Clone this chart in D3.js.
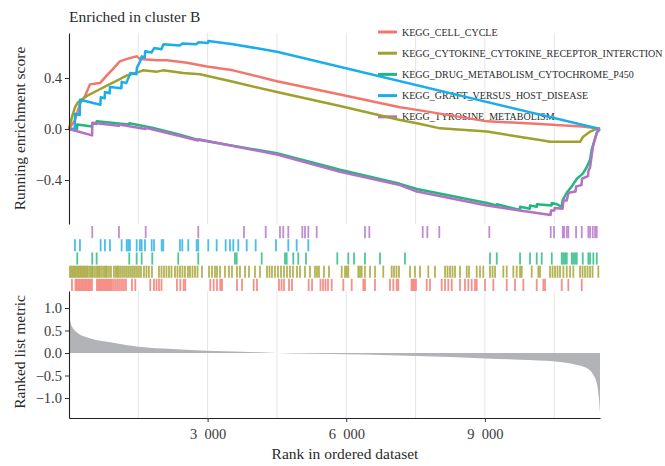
<!DOCTYPE html>
<html>
<head>
<meta charset="utf-8">
<script src="https://cdn.jsdelivr.net/npm/d3@7"></script>
<style>
  body { margin: 0; background: #fff; }
  text { font-family: "Liberation Serif", "DejaVu Serif", serif; }
</style>
</head>
<body>
<div id="chart"></div>
<script>
//
// GSEA plot: running enrichment score, hit rug and ranked list metric
//

// Gene sets (legend order) and colours
const setNames = [
    'KEGG_CELL_CYCLE',
    'KEGG_CYTOKINE_CYTOKINE_RECEPTOR_INTERCTION',
    'KEGG_DRUG_METABOLISM_CYTOCHROME_P450',
    'KEGG_GRAFT_VERSUS_HOST_DISEASE',
    'KEGG_TYROSINE_METABOLISM'
];
const setColors = ['#f3766d', '#a0a02c', '#22b87d', '#19aeea', '#b371c6'];

// Running enrichment score, [rank, score]
const esCellCycle = [[0, 0], [130, 0.07], [240, 0.2], [350, 0.26], [455, 0.35], [670, 0.36], [820, 0.42],
    [950, 0.47], [1100, 0.53], [1255, 0.55], [1470, 0.57], [1535, 0.55], [1905, 0.54], [2120, 0.54],
    [2555, 0.52], [2985, 0.49], [3550, 0.46], [4500, 0.375], [5865, 0.27], [7160, 0.17], [7530, 0.15],
    [9045, 0.06], [10190, 0.04], [11100, 0.02], [11430, 0.005], [11490, 0]];
const esCytokine = [[0, 0], [70, 0.1], [130, 0.17], [195, 0.21], [390, 0.26], [605, 0.3], [820, 0.34],
    [1040, 0.38], [1255, 0.42], [1535, 0.45], [1600, 0.46], [1905, 0.45], [2035, 0.46], [2470, 0.44],
    [2835, 0.43], [3550, 0.37], [4500, 0.29], [5865, 0.18], [7160, 0.07], [7530, 0.045], [8030, 0.005],
    [9045, -0.02], [10190, -0.086], [10410, -0.1], [11060, -0.1], [11125, -0.06], [11280, -0.02],
    [11430, 0.005], [11490, 0]];
const esDrug = [[0, 0], [175, 0.0], [180, 0.035], [500, 0.02], [504, 0.045], [595, 0.04], [600, 0.06],
    [1300, 0.035], [1305, 0.045], [1800, 0.01], [2360, -0.04], [2800, -0.085], [4500, -0.19],
    [5865, -0.32], [7160, -0.43], [7530, -0.47], [9045, -0.58], [9250, -0.6], [9256, -0.59],
    [9755, -0.635], [9760, -0.61], [9970, -0.625], [9976, -0.6], [10120, -0.61], [10125, -0.59],
    [10440, -0.6], [10446, -0.58], [10560, -0.59], [10662, -0.61], [10680, -0.56], [10770, -0.5],
    [10880, -0.45], [10990, -0.39], [11117, -0.35], [11203, -0.3], [11275, -0.24], [11311, -0.16],
    [11346, -0.12], [11420, -0.03], [11490, 0]];
const esGvhd = [[0, 0], [128, 0], [132, 0.12], [234, 0.11], [240, 0.23], [680, 0.19], [688, 0.25],
    [772, 0.24], [780, 0.29], [880, 0.28], [888, 0.33], [1135, 0.32], [1142, 0.37], [1240, 0.36],
    [1330, 0.44], [1460, 0.43], [1470, 0.48], [1540, 0.53], [1575, 0.57], [1640, 0.56], [1650, 0.61],
    [1785, 0.6], [1845, 0.635], [2000, 0.625], [2045, 0.665], [2400, 0.655], [2455, 0.67], [2760, 0.665],
    [2800, 0.68], [3010, 0.675], [3016, 0.69], [3550, 0.665], [4070, 0.633], [4500, 0.606], [11490, 0]];
const esTyrosine = [[0, 0], [500, -0.05], [506, 0.05], [1078, 0.025], [1085, 0.035], [1655, 0.0],
    [1662, 0.01], [2795, -0.09], [2800, -0.08], [4500, -0.2], [5865, -0.335], [7160, -0.44],
    [7530, -0.49], [9045, -0.6], [10420, -0.675], [10430, -0.64], [10500, -0.64], [10510, -0.62],
    [10680, -0.625], [10700, -0.56], [10770, -0.56], [10810, -0.5], [10960, -0.49], [10975, -0.45],
    [11090, -0.44], [11100, -0.39], [11230, -0.37], [11240, -0.33], [11275, -0.3], [11340, -0.13],
    [11420, -0.03], [11450, 0], [11490, 0]];

// Hit positions (rank) of each gene set
const hitsCellCycle = [65, 141, 173, 206, 238, 271, 303, 335, 368, 400, 433, 465, 498, 606, 638, 671, 703,
    736, 768, 801, 833, 866, 898, 931, 974, 1017, 1060, 1104, 1147, 1190, 1233, 1363, 1435, 1759, 1839,
    1894, 1948, 2002, 2337, 2409, 2482, 2517, 3058, 3131, 3203, 3274, 3311, 3636, 3744, 3997, 4068, 4544,
    4599, 4653, 4761, 4826, 5187, 5259, 5442, 5497, 5551, 5605, 5685, 5936, 6118, 6369, 6405, 6622, 6946,
    7018, 7091, 7126, 7412, 7444, 7477, 7509, 7741, 7812, 8065, 8137, 8208, 8282, 8461, 8569, 8641, 8714,
    8786, 8823, 9002, 9182, 9472, 9651, 9831, 10121, 10264, 10301, 10662, 10805, 11095];
const hitsCytokine = [22, 54, 87, 119, 151, 184, 216, 249, 281, 314, 346, 379, 411, 454, 487, 519, 563,
    606, 638, 671, 714, 757, 790, 822, 866, 909, 974, 1017, 1050, 1082, 1125, 1169, 1212, 1255, 1298, 1342,
    1385, 1428, 1472, 1515, 1558, 1623, 1677, 1731, 1796, 1948, 2002, 2056, 2110, 2164, 2218, 2294, 2348,
    2402, 2456, 2510, 2575, 2618, 2673, 2727, 2781, 2878, 3030, 3095, 3159, 3203, 3268, 3376, 3462, 3527,
    3636, 3700, 3809, 3895, 4025, 4133, 4285, 4339, 4393, 4458, 4523, 4588, 4653, 4718, 4782, 4847, 4934,
    4999, 5107, 5215, 5323, 5367, 5410, 5518, 5626, 5901, 5973, 6010, 6044, 6260, 6297, 6334, 6405, 6514,
    6622, 6801, 6983, 7033, 7087, 7141, 7379, 7487, 7596, 7775, 7920, 8137, 8191, 8245, 8299, 8353, 8461,
    8606, 8656, 8823, 8894, 8965, 9110, 9165, 9219, 9398, 9472, 9615, 9688, 9760, 9796, 10013, 10156,
    10192, 10409, 10463, 10517, 10571, 10625, 10697, 10770, 10842, 10913, 11058, 11112, 11166, 11220,
    11274, 11329, 11454];
const hitsDrug = [180, 504, 599, 1305, 1465, 1573, 1803, 2365, 2798, 3592, 3629, 4170, 4674, 4711, 4854,
    4962, 5129, 5806, 6044, 6168, 6405, 6730, 7271, 9110, 9256, 9760, 9976, 10121, 10229, 10446, 10662,
    10697, 10734, 10771, 10879, 10913, 10950, 10987, 11117, 11238, 11275, 11346, 11420];
const hitsGvhd = [130, 238, 686, 779, 887, 1140, 1249, 1283, 1320, 1465, 1536, 1573, 1645, 1790, 1840,
    2006, 2041, 2402, 2452, 2582, 2763, 2798, 3014, 3196, 3391, 3484, 3556, 3664, 3846, 4040, 4480, 4746,
    4927, 5179];
const hitsTyrosine = [504, 1082, 1660, 2798, 3787, 4257, 4566, 4637, 4746, 5049, 5107, 5179, 5360, 6405,
    6499, 7654, 7754, 8013, 9095, 10424, 10496, 10684, 10712, 10771, 10806, 10972, 11095, 11238, 11275,
    11333, 11383, 11420];

// Ranked list metric, [rank, value]
const metricPoints = [[1, 1.2], [10, 0.95], [35, 0.67], [80, 0.56], [150, 0.48], [450, 0.33], [900, 0.24],
    [1500, 0.14], [2250, 0.09], [3000, 0.05], [3750, 0.03], [4500, 0.0], [5260, -0.015], [6010, -0.03],
    [6760, -0.045], [7510, -0.067], [8260, -0.09], [9010, -0.12], [9760, -0.15], [10520, -0.19],
    [10970, -0.26], [11190, -0.33], [11340, -0.48], [11420, -0.67], [11470, -1.04], [11490, -1.33]];

// Ticks
const xTicks = [3000, 6000, 9000];
const gridTicks = [1500, 3000, 4500, 6000, 7500, 9000, 10500];
const esTicks = [-0.4, 0, 0.4];
const metricTicks = [1, 0.5, 0, -0.5, -1];

const esSeries = [esCellCycle, esCytokine, esDrug, esGvhd, esTyrosine];
const hitSeries = [hitsCellCycle, hitsCytokine, hitsDrug, hitsGvhd, hitsTyrosine];

const width = 665;
const height = 466;
const fontColor = '#2b2b2b';

let svg = d3.select('#chart')
    .append('svg')
    .attr('width', width)
    .attr('height', height);

svg.append('rect')
    .attr('width', width)
    .attr('height', height)
    .attr('fill', '#fff');

// Scales
let x = d3.scaleLinear().domain([1, 11490]).range([69, 600]);
let yES = d3.scaleLinear().domain([-0.745, 0.753]).range([224, 33]);
let yRug = d3.scaleBand().domain([4, 3, 2, 1, 0]).range([226, 291]).paddingInner(0.08);
let yRM = d3.scaleLinear().domain([-1.444, 1.378]).range([418, 291]);

// Vertical grid lines in top and bottom panels
[[33, 224], [291, 418]].forEach(function(r) {
    svg.append('g')
        .selectAll('line')
        .data(gridTicks)
        .enter()
        .append('line')
        .attr('x1', d => x(d))
        .attr('x2', d => x(d))
        .attr('y1', r[0])
        .attr('y2', r[1])
        .attr('stroke', '#e6e6e6')
        .attr('stroke-width', 1);
});

// Legend (drawn under the curves)
let legend = svg.append('g')
    .selectAll('g')
    .data(setNames)
    .enter()
    .append('g')
    .attr('transform', (d, i) => 'translate(378,' + (32 + i * 21.2) + ')');

legend.append('line')
    .attr('x1', 0)
    .attr('x2', 19)
    .attr('stroke', (d, i) => setColors[i])
    .attr('stroke-width', 3);

legend.append('text')
    .attr('x', 24)
    .attr('y', 3.5)
    .attr('font-size', 10)
    .attr('fill', fontColor)
    .text(d => d);

// Running enrichment score curves
let esLine = d3.line()
    .x(d => x(d[0]))
    .y(d => yES(d[1]));

svg.append('g')
    .selectAll('path')
    .data(esSeries)
    .enter()
    .append('path')
    .attr('d', esLine)
    .attr('fill', 'none')
    .attr('stroke', (d, i) => setColors[i])
    .attr('stroke-width', 2.5)
    .attr('stroke-linejoin', 'round');

// Rug of hits
hitSeries.forEach(function(hits, i) {
    svg.append('g')
        .selectAll('line')
        .data(hits)
        .enter()
        .append('line')
        .attr('x1', d => x(d))
        .attr('x2', d => x(d))
        .attr('y1', yRug(i))
        .attr('y2', yRug(i) + yRug.bandwidth())
        .attr('stroke', setColors[i])
        .attr('stroke-opacity', 0.8)
        .attr('stroke-width', 1.8);
});

// Ranked list metric
let area = d3.area()
    .x(d => x(d[0]))
    .y0(yRM(0))
    .y1(d => yRM(d[1]))
    .curve(d3.curveMonotoneX);

svg.append('path')
    .datum(metricPoints)
    .attr('d', area)
    .attr('fill', '#b1b3b6');

// Axes
let fmt = d3.formatLocale({ decimal: '.', thousands: '\u2002', grouping: [3], currency: ['', ''], minus: '\u2212' });

function styleAxis(g) {
    g.select('.domain').attr('stroke', '#222').attr('stroke-width', 1.1);
    g.selectAll('.tick line').attr('stroke', '#333');
    g.selectAll('.tick text')
        .attr('fill', '#3a3a3a')
        .attr('font-size', 14.5)
        .style('font-family', '"Liberation Serif", "DejaVu Serif", serif');
}

svg.append('g')
    .attr('transform', 'translate(69,0)')
    .call(d3.axisLeft(yES).tickValues(esTicks).tickSize(4).tickSizeOuter(0).tickFormat(fmt.format('.1f')))
    .call(styleAxis);

svg.append('g')
    .attr('transform', 'translate(69,0)')
    .call(d3.axisLeft(yRM).tickValues(metricTicks).tickSize(4).tickSizeOuter(0).tickFormat(fmt.format('.1f')))
    .call(styleAxis);

svg.append('g')
    .attr('transform', 'translate(0,418)')
    .call(d3.axisBottom(x).tickValues(xTicks).tickSize(4).tickSizeOuter(0).tickPadding(7).tickFormat(fmt.format(',')))
    .call(styleAxis);

// Titles
svg.append('text')
    .attr('x', 69)
    .attr('y', 22)
    .attr('font-size', 15.5)
    .attr('fill', fontColor)
    .text('Enriched in cluster B');

svg.append('text')
    .attr('transform', 'translate(25,128.5) rotate(-90)')
    .attr('text-anchor', 'middle')
    .attr('font-size', 15.5)
    .attr('fill', fontColor)
    .text('Running enrichment score');

svg.append('text')
    .attr('transform', 'translate(25,352) rotate(-90)')
    .attr('text-anchor', 'middle')
    .attr('font-size', 15.5)
    .attr('fill', fontColor)
    .text('Ranked list metric');

svg.append('text')
    .attr('x', 345)
    .attr('y', 459)
    .attr('text-anchor', 'middle')
    .attr('font-size', 15.5)
    .attr('fill', fontColor)
    .text('Rank in ordered dataset');
</script>
</body>
</html>
